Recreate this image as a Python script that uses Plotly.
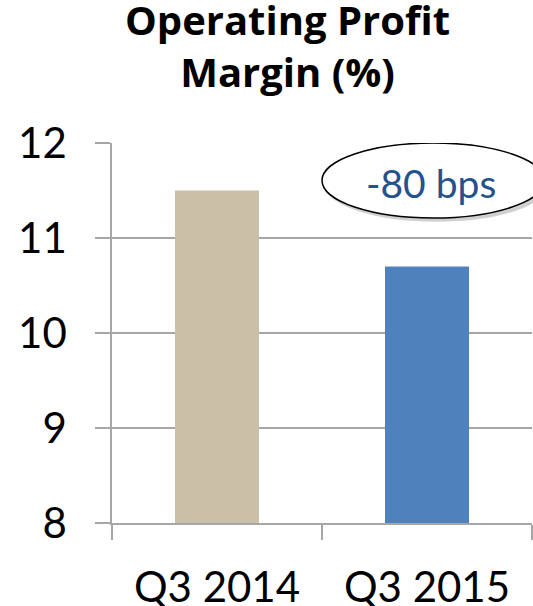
import plotly.graph_objects as go

categories = ["Q3 2014", "Q3 2015"]
margins = [11.5, 10.7]
bar_colors = ["#CBBFA7", "#4F81BD"]
y_ticks = [8, 9, 10, 11, 12]
title_text = "Operating Profit<br>Margin (%)"
callout_text = "-80 bps"

FONT = "Lato"

fig = go.Figure()
fig.add_trace(go.Bar(
    x=categories, y=margins, marker=dict(color=bar_colors, line=dict(width=0)),
    width=0.4, hoverinfo="skip",
))

# callout ellipse with shadow
fig.add_shape(type="circle", xref="paper", yref="y", x0=0.505, x1=1.04, y0=11.17, y1=11.97,
              fillcolor="rgba(120,120,120,0.35)", line=dict(width=0), layer="above")
fig.add_shape(type="circle", xref="paper", yref="y", x0=0.5, x1=1.03, y0=11.21, y1=12.0,
              fillcolor="white", line=dict(color="black", width=1.5), layer="above")
fig.add_annotation(xref="paper", yref="y", x=0.76, y=11.58, text=callout_text, showarrow=False,
                   font=dict(family=FONT, size=39, color="#24528C"), xanchor="center", yanchor="middle")

# title
fig.add_annotation(xref="paper", yref="paper", x=(287 - 112) / 420, y=1, yshift=42,
                   text=title_text, showarrow=False, xanchor="center", yanchor="bottom",
                   font=dict(family="Open Sans", size=40, color="black", weight="bold"))

fig.update_layout(
    width=533, height=606,
    margin=dict(l=112, r=1, t=143, b=83, autoexpand=False),
    paper_bgcolor="white", plot_bgcolor="white",
    showlegend=False,
    font=dict(family=FONT, color="black"),
)
fig.update_yaxes(range=[8, 12], tickvals=y_ticks, showgrid=True, gridcolor="#A6A6A6", gridwidth=1.5,
                 showline=True, linecolor="#A6A6A6", linewidth=1.5,
                 ticks="outside", ticklen=15, tickcolor="#A6A6A6", tickwidth=1.5,
                 tickfont=dict(family=FONT, size=42, color="black"), ticklabelstandoff=20,
                 zeroline=False, fixedrange=True, automargin=False)
fig.update_xaxes(type="category", tickson="boundaries", showgrid=False,
                 showline=True, linecolor="#A6A6A6", linewidth=1.5,
                 ticks="outside", ticklen=15, tickcolor="#A6A6A6", tickwidth=1.5,
                 tickfont=dict(family=FONT, size=42, color="black"), ticklabelstandoff=27,
                 fixedrange=True, automargin=False)

fig.write_html("out.html", config={"displayModeBar": False},
               post_script="document.body.style.margin='0';document.body.style.overflow='hidden';")
